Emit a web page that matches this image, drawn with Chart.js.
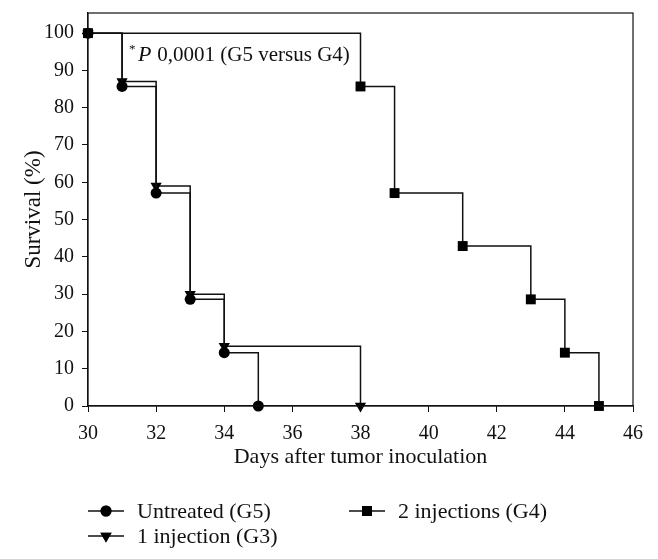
<!DOCTYPE html>
<html lang="en">
<head>
  <meta charset="UTF-8">
  <script src="https://cdn.jsdelivr.net/npm/chart.js"></script>
  <title>Survival</title>
  <style>
    html, body { margin:0; padding:0; background:#fff; }
    #wrap { width:658px; height:559px; }
  </style>
</head>
<body>
  <div id="wrap"><canvas id="myChart" width="658" height="559"></canvas></div>
  <script>
    // data
    const g5Days = [30, 31, 32, 33, 34, 35];
    const g5Surv = [100, 85.7, 57.1, 28.6, 14.3, 0];
    const g3Days = [30, 31, 32, 33, 34, 38];
    const g3Surv = [100, 87, 59, 30, 16, 0];
    const g4Days = [30, 38, 39, 41, 43, 44, 45];
    const g4Surv = [100, 85.7, 57.1, 42.9, 28.6, 14.3, 0];
    const seriesNames = ['Untreated (G5)', '1 injection (G3)', '2 injections (G4)'];
    const xTicks = [30, 32, 34, 36, 38, 40, 42, 44, 46];
    const yTicks = [0, 10, 20, 30, 40, 50, 60, 70, 80, 90, 100];

    const FONT = '"Liberation Serif", "DejaVu Serif", serif';
    const pts = (xs, ys) => xs.map((x, i) => ({x: x, y: ys[i]}));

    function ds(label, data, style, size, rot) {
      return {
        label: label, data: data, stepped: true,
        borderColor: '#111', borderWidth: 1.5,
        pointStyle: style, pointRadius: size, pointRotation: rot,
        pointBackgroundColor: '#000', pointBorderColor: '#000', pointBorderWidth: 0,
        clip: false, fill: false
      };
    }

    // frame around the plot + p value note + legend
    const extras = {
      id: 'extras',
      afterDraw(chart) {
        const c = chart.ctx, a = chart.chartArea;
        const xs = chart.scales.x, ys = chart.scales.y;
        c.save();
        c.strokeStyle = '#111'; c.lineWidth = 1.2;
        c.strokeRect(a.left, a.top, a.right - a.left, a.bottom - a.top);

        // annotation
        c.fillStyle = '#111';
        c.textBaseline = 'alphabetic';
        let tx = xs.getPixelForValue(31.2), ty = ys.getPixelForValue(92.5);
        c.font = '13px ' + FONT;
        c.fillText('*', tx, ty - 8);
        tx += 9;
        c.font = 'italic 22px ' + FONT;
        c.fillText('P', tx, ty);
        tx += c.measureText('P').width + 6;
        c.font = '21px ' + FONT;
        c.fillText('0,0001 (G5 versus G4)', tx, ty);

        // legend
        const items = [
          {i: 0, x: 88, y: 511, st: 'circle', r: 5.5, rot: 0},
          {i: 2, x: 349, y: 511, st: 'rect', r: 7, rot: 0},
          {i: 1, x: 88, y: 536, st: 'triangle', r: 6.5, rot: 180}
        ];
        c.font = '22px ' + FONT;
        c.textBaseline = 'middle';
        items.forEach(it => {
          c.beginPath();
          c.moveTo(it.x, it.y); c.lineTo(it.x + 36, it.y);
          c.lineWidth = 1.6; c.strokeStyle = '#111'; c.stroke();
          Chart.helpers.drawPoint(c, {pointStyle: it.st, radius: it.r, rotation: it.rot, borderWidth: 0}, it.x + 18, it.y);
          c.fillStyle = '#000'; c.fill();
          c.fillStyle = '#111';
          c.fillText(chart.data.datasets[it.i].label, it.x + 49, it.y + 1);
        });
        c.restore();
      }
    };

    new Chart(document.getElementById('myChart'), {
      type: 'line',
      data: {
        datasets: [
          ds(seriesNames[0], pts(g5Days, g5Surv), 'circle', 5.5, 0),
          ds(seriesNames[1], pts(g3Days, g3Surv), 'triangle', 6.5, 180),
          ds(seriesNames[2], pts(g4Days, g4Surv), 'rect', 7, 0)
        ]
      },
      options: {
        responsive: false,
        animation: false,
        layout: { padding: { left: 0, right: 25, top: 13, bottom: 89 } },
        plugins: { legend: { display: false }, tooltip: { enabled: false } },
        scales: {
          x: {
            type: 'linear', min: 30, max: 46,
            afterBuildTicks: s => { s.ticks = xTicks.map(v => ({value: v})); },
            afterFit: s => { s.height = 64; s.paddingLeft = 0; s.paddingRight = 0; },
            grid: { drawOnChartArea: false, tickLength: 6, color: '#111' },
            border: { color: '#111', width: 1.2 },
            ticks: { color: '#111', font: { family: FONT, size: 20 }, padding: 10, maxRotation: 0 },
            title: { display: true, text: 'Days after tumor inoculation', color: '#111',
                     font: { family: FONT, size: 22 }, padding: { top: 2, bottom: 0 } }
          },
          y: {
            min: 0, max: 105.4,
            afterBuildTicks: s => { s.ticks = yTicks.map(v => ({value: v})); },
            afterFit: s => { s.width = 88; s.paddingTop = 0; s.paddingBottom = 0; },
            grid: { drawOnChartArea: false, tickLength: 6, color: '#111' },
            border: { color: '#111', width: 1.2 },
            ticks: { color: '#111', font: { family: FONT, size: 20 }, padding: 8 },
            title: { display: true, text: 'Survival (%)', color: '#111',
                     font: { family: FONT, size: 23 }, padding: { top: 20, bottom: 0 } }
          }
        }
      },
      plugins: [extras]
    });
  </script>
</body>
</html>
